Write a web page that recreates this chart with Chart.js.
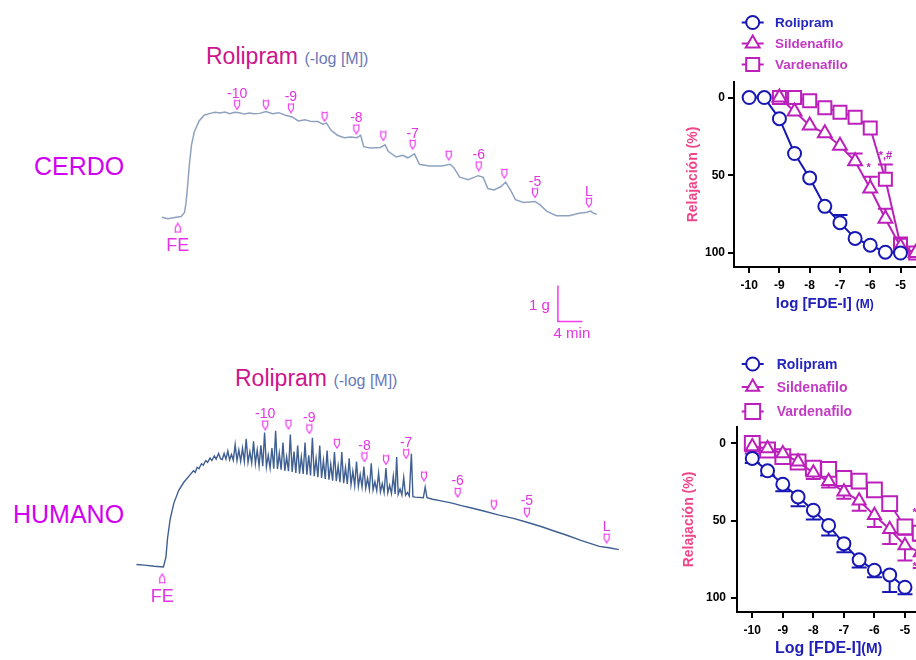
<!DOCTYPE html>
<html lang="es">
<head>
<meta charset="utf-8">
<title>Rolipram / Sildenafilo / Vardenafilo</title>
<script src="https://cdn.jsdelivr.net/npm/chart.js@4.4.1/dist/chart.umd.min.js"></script>
<style>
  html, body { margin: 0; padding: 0; background: #fff; }
  #fig { position: relative; width: 916px; height: 660px; overflow: hidden;
         font-family: Arial, "Liberation Sans", Helvetica, sans-serif; }
  #fig canvas { position: absolute; }
  .lbl { position: absolute; line-height: 1; white-space: nowrap; }
</style>
</head>
<body>
<div id="fig">
  <div class="lbl" style="left:206px;top:45px;font-size:23px;color:#cd148c">Rolipram <span style="font-size:16px;color:#6a7ab8">(-log [M])</span></div>
  <div class="lbl" style="left:235px;top:367px;font-size:23px;color:#cd148c">Rolipram <span style="font-size:16px;color:#6a7ab8">(-log [M])</span></div>
  <div class="lbl" style="left:34px;top:154px;font-size:25px;color:#d200f0">CERDO</div>
  <div class="lbl" style="left:13px;top:502px;font-size:25px;color:#d200f0">HUMANO</div>

  <canvas id="cerdoTrace" width="470" height="305" style="left:150px;top:40px"></canvas>
  <canvas id="humanTrace" width="520" height="240" style="left:120px;top:380px"></canvas>
  <canvas id="cerdoCrc" width="262" height="320" style="left:680px;top:0px"></canvas>
  <canvas id="humanCrc" width="268" height="320" style="left:680px;top:340px"></canvas>
</div>

<script>
// ---------- tension traces: [time (min), tension (g)] ----------
const cerdoTrace = [
  [0,0],[1.0,-0.04],[2.1,-0.01],[3.15,0.02],[3.7,0.13],[3.95,0.40],[4.2,0.85],[4.5,1.48],[4.85,2.02],[5.3,2.38],
  [6.1,2.69],[6.9,2.85],[7.9,2.90],[8.7,2.93],[9.5,2.91],[10.3,2.94],[11.1,2.89],[11.9,2.93],[12.7,2.92],[13.5,2.88],
  [14.3,2.91],[15.1,2.89],[16.0,2.90],[17.0,2.95],[18.1,2.89],[19.1,2.92],[20.2,2.85],[21.3,2.80],[22.3,2.69],[23.4,2.72],
  [24.5,2.67],[25.5,2.67],[26.3,2.60],[26.9,2.63],[27.7,2.42],[28.7,2.29],[29.8,2.22],[30.9,2.24],[31.9,2.22],[32.5,2.29],
  [33.0,1.97],[34.1,1.93],[35.7,1.95],[36.5,2.02],[37.0,1.84],[38.3,1.68],[39.4,1.73],[40.2,1.66],[41.3,1.77],[42.1,1.48],
  [43.7,1.43],[45.8,1.43],[47.1,1.48],[47.7,1.39],[48.7,1.12],[50.1,1.05],[51.7,1.16],[52.5,1.12],[53.3,0.80],[54.3,0.76],
  [55.4,0.85],[56.2,0.98],[57.0,0.76],[57.8,0.49],[59.1,0.41],[61.0,0.44],[61.8,0.35],[62.9,0.17],[64.5,0.04],[66.6,0.04],
  [68.2,0.11],[69.5,0.14],[70.1,0.17],[70.6,0.11],[71.1,0.08]
];
const humanTrace = [
  [0,0.02],[1.3,0],[2.9,-0.03],[4.4,-0.05],[4.8,0.22],[5.07,0.76],[5.5,1.30],[6.1,1.75],[6.9,2.11],[7.7,2.33],
  [8.8,2.56],[9.3,2.66],[9.6,2.62],[9.9,2.76],[10.2,2.72],[10.6,2.86],[10.9,2.82],[11.3,2.95],[11.6,2.90],[12.0,3.02],
  [12.3,2.95],[12.7,3.08],[13.0,2.99],[13.4,3.15],[13.7,3.00],
  [14.0,2.98],[14.3,3.15],[14.6,2.99],[14.9,3.22],[15.2,2.97],[15.5,3.12],[15.8,2.96],[16.1,3.40],[16.4,2.95],[16.7,3.25],
  [17.0,2.93],[17.3,3.30],[17.6,2.92],[17.9,3.56],[18.2,2.90],[18.5,3.20],[18.8,2.88],[19.1,3.49],[19.4,2.86],[19.7,3.25],
  [20.0,2.80],[20.3,3.38],[20.6,2.79],[20.9,3.74],[21.2,2.77],[21.5,3.10],[21.8,2.74],[22.1,3.30],[22.4,2.72],[22.7,3.79],
  [23.0,2.71],[23.3,3.15],[23.6,2.69],[23.9,3.46],[24.2,2.66],[24.5,3.05],[24.8,2.65],[25.1,3.68],[25.4,2.63],[25.7,3.20],
  [26.0,2.60],[26.3,3.37],[26.6,2.58],[26.9,3.05],[27.2,2.57],[27.5,3.46],[27.8,2.55],[28.1,3.10],[28.4,2.53],[28.7,3.59],
  [29.0,2.51],[29.3,3.00],[29.6,2.48],[29.9,3.37],[30.2,2.46],[30.5,2.95],[30.8,2.43],[31.1,3.23],[31.4,2.41],[31.7,2.85],
  [32.0,2.38],[32.3,3.19],[32.6,2.37],[32.9,2.80],[33.2,2.34],[33.5,3.19],[33.8,2.31],[34.1,2.75],[34.4,2.29],[34.7,3.01],
  [35.0,2.27],[35.3,2.65],[35.6,2.24],[35.9,2.92],[36.2,2.22],[36.5,2.55],[36.8,2.20],[37.1,2.78],[37.4,2.17],[37.7,2.45],
  [38.0,2.14],[38.3,2.87],[38.6,2.12],[38.9,2.35],[39.2,2.10],[39.5,2.60],[39.8,2.07],[40.1,2.30],[40.4,2.05],[40.7,2.74],
  [41.0,2.04],[41.3,2.25],[41.6,2.02],[41.9,2.51],[42.2,2.01],[42.45,3.05],[42.7,2.00],[43.0,2.15],[43.3,1.98],[43.6,2.47],
  [43.9,1.97],[44.2,2.05],[44.5,1.95],[44.85,3.14],[45.1,1.93],[45.5,1.92],
  [46.8,1.90],[47.1,2.20],[47.4,1.90],[48.3,1.86],[49.5,1.82],[51.5,1.75],[53.0,1.68],[54.5,1.62],[56.8,1.52],[59.0,1.42],
  [61.5,1.32],[63.7,1.21],[66.0,1.09],[68.0,0.97],[70.1,0.85],[72.5,0.70],[75.5,0.53],[77.1,0.49],[78.7,0.44]
];

// additions of rolipram (arrows), time (min) and height of the arrow (g)
const markLabels = ['-10', '', '-9', '', '-8', '', '-7', '', '-6', '', '-5', 'L'];
const cerdoMarkMin = [12.3, 17.0, 21.1, 26.6, 31.8, 36.2, 41.0, 46.9, 51.8, 56.0, 61.0, 69.8];
const cerdoMarkG = [3.14, 3.14, 3.05, 2.81, 2.46, 2.27, 2.03, 1.73, 1.43, 1.22, 0.68, 0.41];
const humanMarkMin = [21.0, 24.8, 28.2, 32.7, 37.2, 40.7, 44.0, 46.9, 52.4, 58.3, 63.7, 76.7];
const humanMarkG = [3.95, 3.97, 3.84, 3.43, 3.05, 2.97, 3.14, 2.51, 2.05, 1.70, 1.49, 0.76];
const cerdoFE = [2.6, -0.30];
const humanFE = [4.2, -0.38];

// ---------- concentration-response curves (% relaxation) ----------
const seriesNames = ['Rolipram', 'Sildenafilo', 'Vardenafilo'];
const doses = [-10, -9.5, -9, -8.5, -8, -7.5, -7, -6.5, -6, -5.5, -5, -4.5];
const doseTicks = [-10, -9, -8, -7, -6, -5];
const relaxTicks = [0, 50, 100];

const cerdoRoli = [0, 0, 13.6, 36, 51.7, 70, 80.5, 90.6, 95, 99.5, 100, null];
const cerdoSild = [null, null, 0, 9, 18, 23, 31, 41, 58.5, 78, 96, 100];
const cerdoVard = [null, null, 0, 0, 2, 6.6, 9.4, 12.6, 19.6, 52.5, 95, 100];
const cerdoRoliSem = [0, 0, 0, 0, 0, 0, 5, 0, 0, 0, 0, 0];
const cerdoSildSem = [0, 0, 0, 0, 0, 0, 0, 5, 7.5, 6.5, 0, 0];
const cerdoVardSem = [0, 0, 0, 0, 0, 0, 0, 0, 0, 9.5, 5, 0];

const humanRoli = [9.7, 17.7, 26.4, 34.6, 43.2, 53, 64.8, 75.3, 82, 85, 93, null];
const humanSild = [2, 3.3, 6.5, 11.9, 19, 24.5, 31.3, 37, 46.4, 55.5, 66, 70.5];
const humanVard = [0, 4.3, 8.6, 12, 16, 16.8, 22.7, 24.4, 30, 38.9, 54, 58];
const humanRoliSem = [3, 3, 4.5, 6, 6, 6.5, 5.5, 5, 4.5, 11, 4.5, null];
const humanSildSem = [3, 3, 3.5, 4, 4, 4, 4.5, 6.5, 7.6, 9.5, 9.7, 10];
const humanVardSem = [6.5, 4.5, 4, 4, 4, 4, 4, 4, 4, 4, 5, 5];

// significance marks
const cerdoStarX = [-5.5, -6.05];
const cerdoStarY = [37.5, 45];
const cerdoStarText = ['*,#', '*'];
const humanStarX = [-4.68, -4.68];
const humanStarY = [45, 80];
const humanStarText = ['*', '*'];

// ---------- styles ----------
const FONT = 'Arial, "Liberation Sans", Helvetica, sans-serif';
const BLUE = '#1717b4';
const MAGENTA = '#bb20bb';
const MARK = '#ee3cee';
const MARK_TEXT = '#e334e3';
const LEGEND_TEXT = ['#2525c0', '#c33ac3', '#c33ac3'];

function arrowGlyph(up) {
  const c = document.createElement('canvas');
  c.width = 8; c.height = 11;
  const g = c.getContext('2d');
  g.strokeStyle = MARK; g.lineWidth = 1.2;
  if (up) { g.translate(0, 11); g.scale(1, -1); }
  g.beginPath();
  g.moveTo(1.5, 1.5); g.lineTo(6.5, 1.5);
  g.moveTo(1.5, 0.5); g.lineTo(1.5, 6); g.lineTo(4, 10); g.lineTo(6.5, 6); g.lineTo(6.5, 0.5);
  g.stroke();
  return c;
}
const glyphDown = arrowGlyph(false);
const glyphUp = arrowGlyph(true);

const tracePlugin = {
  id: 'traceMarks',
  afterDatasetsDraw(chart, args, o) {
    const ctx = chart.ctx;
    ctx.save();
    ctx.fillStyle = MARK_TEXT;
    ctx.textAlign = 'center';
    ctx.textBaseline = 'alphabetic';
    ctx.font = '14px ' + FONT;
    chart.getDatasetMeta(1).data.forEach((p, i) => {
      if (o.labels[i]) ctx.fillText(o.labels[i], p.x, p.y - 7);
    });
    const fe = chart.getDatasetMeta(2).data[0];
    ctx.font = '18px ' + FONT;
    ctx.fillText('FE', fe.x, fe.y + 23);
    if (o.bar) {
      // calibration bar, drawn in the trace's own units
      const xs = chart.scales.x, ys = chart.scales.y;
      const x0 = xs.getPixelForValue(o.bar.min), x1 = xs.getPixelForValue(o.bar.min + o.bar.dMin);
      const y0 = ys.getPixelForValue(o.bar.g), y1 = ys.getPixelForValue(o.bar.g + o.bar.dG);
      ctx.strokeStyle = MARK; ctx.lineWidth = 1.5;
      ctx.beginPath(); ctx.moveTo(x0, y1); ctx.lineTo(x0, y0); ctx.lineTo(x1, y0); ctx.stroke();
      ctx.font = '15px ' + FONT;
      ctx.textAlign = 'right';
      ctx.fillText(o.bar.dG + ' g', x0 - 8, y0 - 11);
      ctx.textAlign = 'center';
      ctx.fillText(o.bar.dMin + ' min', x0 + 14, y0 + 17);
    }
    ctx.restore();
  }
};

function makeTrace(id, trace, markMin, markG, fe, xr, yr, color, width, bar) {
  return new Chart(document.getElementById(id), {
    type: 'line',
    data: {
      datasets: [{
        data: trace.map(p => ({x: p[0], y: p[1]})),
        borderColor: color, borderWidth: width, pointRadius: 0, tension: 0, fill: false
      }, {
        data: markMin.map((t, i) => ({x: t, y: markG[i]})),
        showLine: false, pointStyle: glyphDown, pointRadius: 4
      }, {
        data: [{x: fe[0], y: fe[1]}],
        showLine: false, pointStyle: glyphUp, pointRadius: 4
      }]
    },
    options: {
      responsive: false, animation: false, devicePixelRatio: 1,
      layout: {padding: 0},
      plugins: {legend: {display: false}, tooltip: {enabled: false},
        traceMarks: {labels: markLabels, bar: bar}},
      scales: {
        x: {type: 'linear', display: false, min: xr[0], max: xr[1]},
        y: {type: 'linear', display: false, min: yr[0], max: yr[1]}
      }
    },
    plugins: [tracePlugin]
  });
}

makeTrace('cerdoTrace', cerdoTrace, cerdoMarkMin, cerdoMarkG, cerdoFE,
  [-1.12, 74.08], [-3.43, 4.81], '#8ea2c0', 1.5, {min: 64.75, g: -2.91, dMin: 4, dG: 1});
makeTrace('humanTrace', humanTrace, humanMarkMin, humanMarkG, humanFE,
  [-1.87, 81.33], [-1.405, 5.08], '#3f5f92', 1.4, null);

// ---------- concentration-response charts ----------
function drawSym(ctx, style, x, y, r, color) {
  ctx.beginPath();
  if (style === 'circle') {
    ctx.arc(x, y, r, 0, Math.PI * 2);
  } else if (style === 'triangle') {
    for (let k = 0; k < 3; k++) {
      const a = k * 2 * Math.PI / 3;
      const px = x + Math.sin(a) * r, py = y - Math.cos(a) * r;
      k ? ctx.lineTo(px, py) : ctx.moveTo(px, py);
    }
    ctx.closePath();
  } else {
    const s = r * Math.SQRT1_2;
    ctx.rect(x - s, y - s, 2 * s, 2 * s);
  }
  ctx.fillStyle = '#fff'; ctx.fill();
  ctx.strokeStyle = color; ctx.lineWidth = 2; ctx.stroke();
}

const crcPlugin = {
  id: 'crc',
  beforeDatasetsDraw(chart, args, o) {
    const ctx = chart.ctx, ys = chart.scales.y;
    ctx.save();
    ctx.lineWidth = 2;
    chart.data.datasets.forEach((ds, i) => {
      const meta = chart.getDatasetMeta(i);
      ctx.strokeStyle = ds.borderColor;
      ds.data.forEach((d, j) => {
        if (!d.sem) return;
        const p = meta.data[j];
        const yEnd = ys.getPixelForValue(d.y + o.errDir * d.sem);
        ctx.beginPath();
        ctx.moveTo(p.x, p.y); ctx.lineTo(p.x, yEnd);
        ctx.moveTo(p.x - 7.5, yEnd); ctx.lineTo(p.x + 7.5, yEnd);
        ctx.stroke();
      });
    });
    ctx.restore();
  },
  afterDraw(chart, args, o) {
    const ctx = chart.ctx, xs = chart.scales.x, ys = chart.scales.y;
    ctx.save();
    o.legendY.forEach((y, i) => {
      const ds = chart.data.datasets[i];
      ctx.strokeStyle = ds.borderColor; ctx.lineWidth = 2;
      ctx.beginPath(); ctx.moveTo(o.legendX - 11, y); ctx.lineTo(o.legendX + 11, y); ctx.stroke();
      drawSym(ctx, ds.pointStyle, o.legendX, y, ds.pointRadius, ds.borderColor);
      ctx.fillStyle = LEGEND_TEXT[i];
      ctx.font = 'bold ' + o.legendSize + 'px ' + FONT;
      ctx.textAlign = 'left'; ctx.textBaseline = 'middle';
      ctx.fillText(ds.label, o.legendTextX, y + 1);
    });
    ctx.fillStyle = MAGENTA;
    ctx.font = 'bold 11px ' + FONT;
    ctx.textAlign = 'center'; ctx.textBaseline = 'middle';
    o.starX.forEach((sx, i) => {
      ctx.fillText(o.starText[i], xs.getPixelForValue(sx), ys.getPixelForValue(o.starY[i]));
    });
    // x-axis title, centred on the middle of the labelled dose range
    const t = o.xTitle;
    const fMain = 'bold ' + t.size + 'px ' + FONT, fUnit = 'bold ' + t.unitSize + 'px ' + FONT;
    ctx.font = fMain; const w1 = ctx.measureText(t.main).width;
    ctx.font = fUnit; const w2 = ctx.measureText(t.unit).width;
    const mid = xs.getPixelForValue((doseTicks[0] + doseTicks[doseTicks.length - 1]) / 2);
    const x0 = mid - (w1 + w2) / 2;
    ctx.fillStyle = '#2020b8'; ctx.textAlign = 'left'; ctx.textBaseline = 'alphabetic';
    ctx.font = fMain; ctx.fillText(t.main, x0, t.baseline);
    ctx.font = fUnit; ctx.fillText(t.unit, x0 + w1, t.baseline);
    ctx.restore();
  }
};

function series(name, vals, sems, color, style, r) {
  const pts = [];
  doses.forEach((d, i) => {
    if (vals[i] !== null) pts.push({x: d, y: vals[i], sem: sems[i]});
  });
  return {
    label: name, data: pts, borderColor: color, borderWidth: 2,
    backgroundColor: '#fff', pointBackgroundColor: '#fff', pointBorderColor: color,
    pointBorderWidth: 2, pointStyle: style, pointRadius: r, tension: 0, fill: false
  };
}

function makeCrc(id, c) {
  return new Chart(document.getElementById(id), {
    type: 'line',
    data: {
      datasets: [
        series(seriesNames[0], c.roli, c.roliSem, BLUE, 'circle', 6.5),
        series(seriesNames[1], c.sild, c.sildSem, MAGENTA, 'triangle', c.triR),
        series(seriesNames[2], c.vard, c.vardSem, MAGENTA, 'rect', c.rectR)
      ]
    },
    options: {
      responsive: false, animation: false, devicePixelRatio: 1,
      layout: {padding: {top: c.areaTop, left: 0, right: 0, bottom: 0}},
      plugins: {
        legend: {display: false}, tooltip: {enabled: false},
        crc: {errDir: c.errDir, legendX: 72.7, legendTextX: c.legendTextX, legendY: c.legendY,
              legendSize: c.legendSize, starX: c.starX, starY: c.starY, starText: c.starText,
              xTitle: c.xTitle}
      },
      scales: {
        x: {
          type: 'linear', min: -10.5, max: -4,
          afterBuildTicks: s => { s.ticks = doseTicks.map(v => ({value: v})); },
          afterFit: s => { s.height = c.xAxisH; },
          grid: {display: true, drawOnChartArea: false, drawTicks: true, tickLength: 6, color: '#000', lineWidth: 2},
          border: {display: true, color: '#000', width: 2},
          ticks: {color: '#000', padding: 5, font: {family: FONT, size: 12, weight: 'bold'}, callback: v => String(v)},
          title: {display: false}
        },
        y: {
          type: 'linear', reverse: true, min: c.yMin, max: 109,
          afterBuildTicks: s => { s.ticks = relaxTicks.map(v => ({value: v})); },
          afterFit: s => { s.width = c.yAxisW; },
          grid: {display: true, drawOnChartArea: false, drawTicks: true, tickLength: 6, color: '#000', lineWidth: 2},
          border: {display: true, color: '#000', width: 2},
          ticks: {color: '#000', padding: c.yTickPad, font: {family: FONT, size: 12, weight: 'bold'}},
          title: {display: true, text: 'Relajación (%)', color: '#f0458a',
                  font: {family: FONT, size: 14, weight: 'bold'}, padding: {top: c.yTitlePad, bottom: 0}}
        }
      }
    },
    plugins: [crcPlugin]
  });
}

makeCrc('cerdoCrc', {
  roli: cerdoRoli, sild: cerdoSild, vard: cerdoVard,
  roliSem: cerdoRoliSem, sildSem: cerdoSildSem, vardSem: cerdoVardSem,
  errDir: -1, areaTop: 82, xAxisH: 53, yAxisW: 54, yMin: -10, triR: 8, rectR: 9.2,
  legendY: [22.5, 43.5, 64.5], legendTextX: 95, legendSize: 13.5,
  xTitle: {main: 'log [FDE-I] ', unit: '(M)', size: 15, unitSize: 12, baseline: 308},
  yTitlePad: 5, yTickPad: 3,
  starX: cerdoStarX, starY: cerdoStarY, starText: cerdoStarText
});
makeCrc('humanCrc', {
  roli: humanRoli, sild: humanSild, vard: humanVard,
  roliSem: humanRoliSem, sildSem: humanSildSem, vardSem: humanVardSem,
  errDir: 1, areaTop: 87, xAxisH: 48, yAxisW: 57, yMin: -10.6, triR: 7.5, rectR: 10.5,
  legendY: [24, 47, 71.5], legendTextX: 96.7, legendSize: 14,
  xTitle: {main: 'Log [FDE-I]', unit: '(M)', size: 16, unitSize: 14, baseline: 313},
  yTitlePad: 1, yTickPad: 5,
  starX: humanStarX, starY: humanStarY, starText: humanStarText
});
</script>
</body>
</html>
